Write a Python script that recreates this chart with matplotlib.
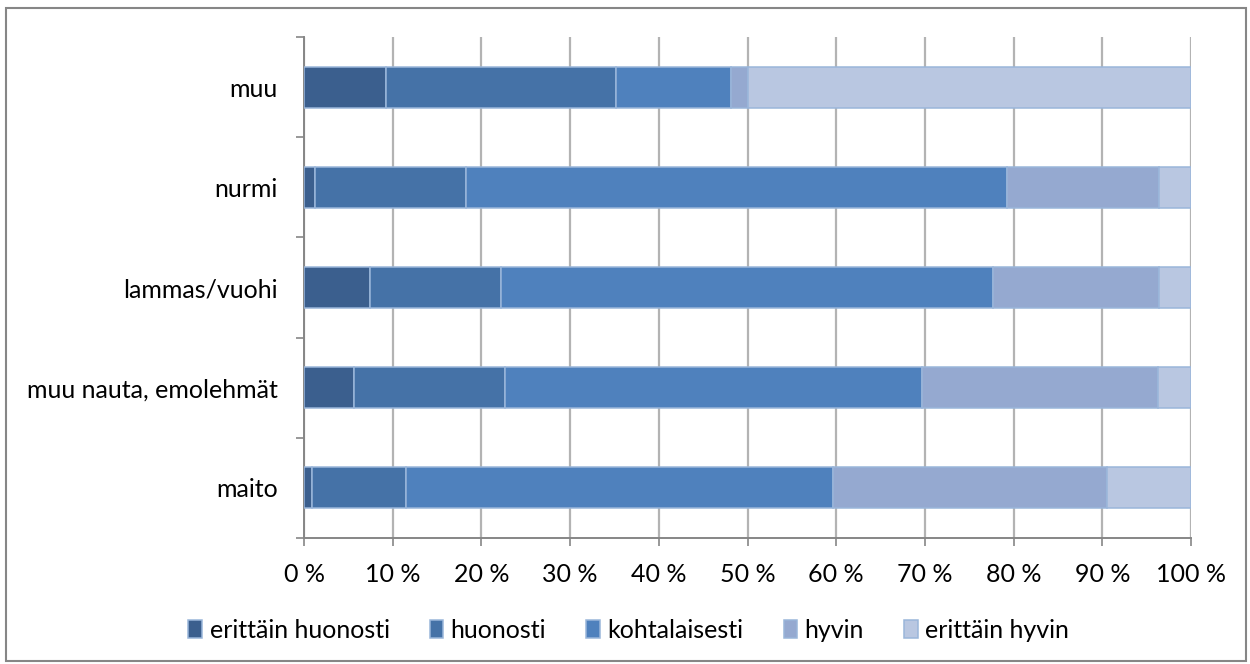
import numpy as np
import matplotlib
matplotlib.use("Agg")
from matplotlib import pyplot as plt
from matplotlib.patches import Rectangle

plt.rcParams['font.family'] = ['Lato', 'DejaVu Sans']

categories = ["maito", "muu nauta, emolehmät", "lammas/vuohi", "nurmi", "muu"]
series = ["erittäin huonosti", "huonosti", "kohtalaisesti", "hyvin", "erittäin hyvin"]

# percent shares, rows follow categories
erittain_huonosti = [0.9, 5.6, 7.4, 1.2, 9.2]
huonosti = [10.6, 17.1, 14.8, 17.1, 26.0]
kohtalaisesti = [48.1, 47.0, 55.5, 60.9, 12.9]
hyvin = [30.9, 26.6, 18.7, 17.2, 2.0]
erittain_hyvin = [9.5, 3.7, 3.6, 3.6, 49.9]

values = [erittain_huonosti, huonosti, kohtalaisesti, hyvin, erittain_hyvin]
colors = ["#3B5F8E", "#4572A7", "#4F81BD", "#95A9D0", "#B9C7E1"]
edge = "#9AB6DA"
fs = 18

fig = plt.figure(figsize=(12.5, 6.64), dpi=100)
ax = fig.add_axes([304/1250, 126/664, 887/1250, 501/664])

y = np.arange(len(categories))
left = np.zeros(len(categories))
for name, vals, col in zip(series, values, colors):
    vals = np.array(vals)
    ax.barh(y, vals, left=left, height=0.41, color=col, edgecolor=edge,
            linewidth=1.1, label=name, zorder=3)
    left += vals

ax.set_xlim(0, 100)
ax.set_ylim(-0.5, len(categories) - 0.5)
ax.set_xticks(np.arange(0, 101, 10))
ax.set_xticklabels([f"{v} %" for v in range(0, 101, 10)], fontsize=fs)
ax.set_yticks(y)
ax.set_yticklabels(categories, fontsize=fs)
ax.set_yticks(np.arange(-0.5, len(categories), 1), minor=True)
ax.tick_params(axis='y', which='major', length=0, pad=19)
ax.tick_params(axis='y', which='minor', length=6, width=1.2, color="#868686")
ax.tick_params(axis='x', length=6, width=1.2, color="#868686", pad=12)
ax.xaxis.grid(True, color="#B3B3B3", linewidth=1.6, zorder=0)
for s in ["top", "right"]:
    ax.spines[s].set_visible(False)
for s in ["left", "bottom"]:
    ax.spines[s].set_color("#868686")
    ax.spines[s].set_linewidth(1.4)

fig.legend(loc="center", bbox_to_anchor=(0.503, 0.051), ncol=5, frameon=False,
           fontsize=fs, handlelength=0.55, handleheight=0.75, handletextpad=0.3,
           columnspacing=1.6)

fig.patches.append(Rectangle((6/1250, 3/664), 1240/1250, 653/664, transform=fig.transFigure,
                             fill=False, edgecolor="#868686", linewidth=1.5))

fig.savefig("out.png", dpi=100)
